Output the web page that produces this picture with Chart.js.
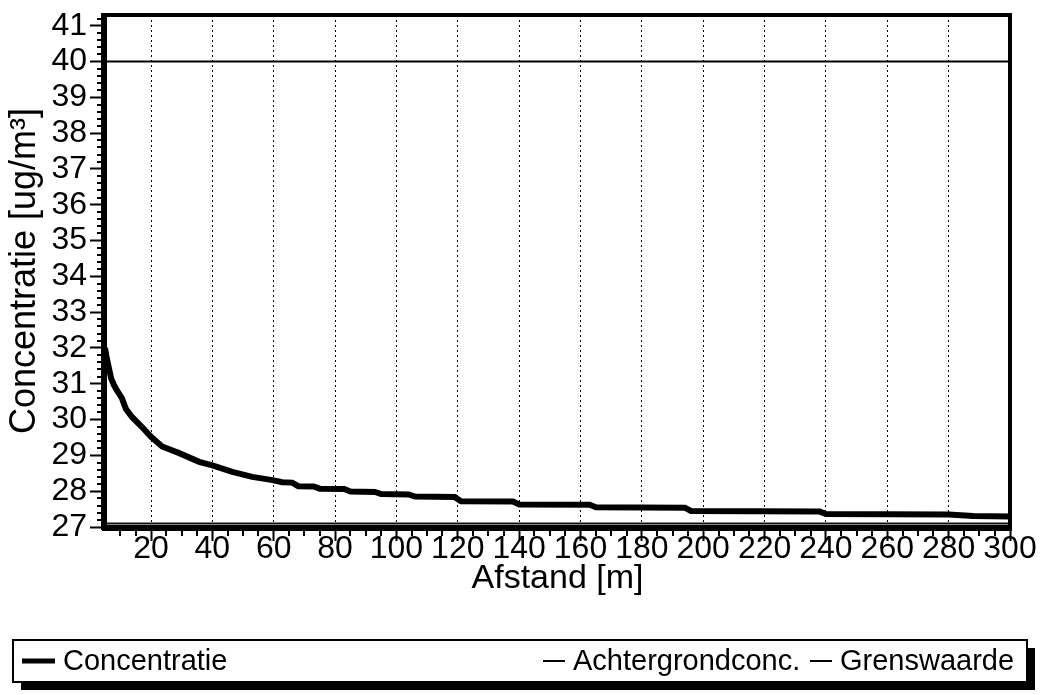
<!DOCTYPE html>
<html>
<head>
<meta charset="utf-8">
<script src="https://cdn.jsdelivr.net/npm/chart.js@4.4.1/dist/chart.umd.min.js"></script>
<style>
  html, body { margin: 0; padding: 0; background: #fff; }
  canvas { display: block; }
</style>
</head>
<body>
<canvas id="chart" width="1043" height="695"></canvas>
<script>
  // afstand [m] en concentratie [ug/m3]
  const afstand = [5, 5.5, 6, 7, 8, 9, 10.5, 11.8, 13.7, 17, 20, 23.6, 29, 35.7, 40, 46.5, 53, 59.6,
    62.8, 66, 68, 73, 75, 83, 85, 93, 95, 104, 106, 119, 121, 138, 140, 163, 165, 194, 196, 238, 240, 280, 288, 300];
  const concentratie = [32.0, 31.75, 31.55, 31.15, 30.95, 30.8, 30.6, 30.3, 30.08, 29.8, 29.52, 29.25, 29.07, 28.82, 28.72, 28.54, 28.4, 28.31,
    28.25, 28.24, 28.14, 28.13, 28.07, 28.06, 27.99, 27.98, 27.92, 27.91, 27.85, 27.84, 27.72, 27.71, 27.63, 27.62, 27.55, 27.54, 27.45, 27.43, 27.36, 27.35, 27.31, 27.29];

  const lijnX = [5, 300];
  const achtergrond = [27.1, 27.1];
  const grenswaarde = [40, 40];

  const xTicks = [20, 40, 60, 80, 100, 120, 140, 160, 180, 200, 220, 240, 260, 280, 300];
  const yTicks = [27, 28, 29, 30, 31, 32, 33, 34, 35, 36, 37, 38, 39, 40, 41];

  const FONT = "'Liberation Sans', Arial, sans-serif";

  function pts(xs, ys) { return xs.map((x, i) => ({ x: x, y: ys[i] })); }

  // kleine tussen-ticks en het dikke kader rond het plotgebied
  const frameAndMinor = {
    id: "frameAndMinor",
    afterDraw(chart) {
      const { ctx, chartArea: a, scales: { x, y } } = chart;
      ctx.save();
      ctx.strokeStyle = "#000";
      ctx.lineWidth = 2;
      ctx.beginPath();
      for (let v = 10; v < 300; v += 5) {
        if (v % 20 === 0) continue;
        const px = Math.round(x.getPixelForValue(v));
        ctx.moveTo(px, a.bottom);
        ctx.lineTo(px, a.bottom + 9);
      }
      for (let v = 27.2; v < 41.3; v += 0.2) {
        if (Math.abs(v - Math.round(v)) < 0.01) continue;
        const py = Math.round(y.getPixelForValue(v));
        ctx.moveTo(a.left - 8, py);
        ctx.lineTo(a.left, py);
      }
      ctx.stroke();

      ctx.lineWidth = 4;
      ctx.strokeRect(a.left, a.top, a.right - a.left, a.bottom - a.top);
      ctx.lineWidth = 6;
      ctx.beginPath();
      ctx.moveTo(a.left - 1, a.top - 2);
      ctx.lineTo(a.left - 1, a.bottom + 3);
      ctx.moveTo(a.left - 3, a.bottom + 1);
      ctx.lineTo(a.right + 2, a.bottom + 1);
      ctx.stroke();
      ctx.restore();
    }
  };

  // legenda in een kader met schaduw onder de grafiek
  const boxLegend = {
    id: "boxLegend",
    afterDraw(chart) {
      const ctx = chart.ctx;
      const bx = 13, by = 640, bw = 1014, bh = 42;
      ctx.save();
      ctx.fillStyle = "#000";
      ctx.fillRect(bx + 8, by + 8, bw, bh);
      ctx.fillStyle = "#fff";
      ctx.fillRect(bx, by, bw, bh);
      ctx.strokeStyle = "#000";
      ctx.lineWidth = 2;
      ctx.strokeRect(bx, by, bw, bh);

      const itemX = [22, 543, 810];
      const lineLen = [33, 22, 22];
      const cy = by + bh / 2;
      ctx.font = "29px " + FONT;
      ctx.textBaseline = "middle";
      chart.data.datasets.forEach((ds, i) => {
        ctx.lineWidth = i === 0 ? 5 : 2;
        ctx.beginPath();
        ctx.moveTo(itemX[i], cy);
        ctx.lineTo(itemX[i] + lineLen[i], cy);
        ctx.stroke();
        ctx.fillStyle = "#000";
        ctx.fillText(ds.label, itemX[i] + lineLen[i] + 8, cy + 1);
      });
      ctx.restore();
    }
  };

  new Chart(document.getElementById("chart"), {
    type: "line",
    data: {
      datasets: [
        { label: "Concentratie", data: pts(afstand, concentratie), borderColor: "#000", borderWidth: 6, pointRadius: 0, tension: 0 },
        { label: "Achtergrondconc.", data: pts(lijnX, achtergrond), borderColor: "#111", borderWidth: 2, pointRadius: 0 },
        { label: "Grenswaarde", data: pts(lijnX, grenswaarde), borderColor: "#000", borderWidth: 2, pointRadius: 0 },
      ],
    },
    options: {
      responsive: false,
      animation: false,
      layout: { padding: { top: 15, right: 33, bottom: 96, left: 0 } },
      plugins: { legend: { display: false }, tooltip: { enabled: false } },
      scales: {
        x: {
          type: "linear",
          min: 5,
          max: 300,
          afterBuildTicks: (s) => { s.ticks = xTicks.map((v) => ({ value: v })); },
          afterFit: (s) => { s.height = 72; s.paddingLeft = 0; s.paddingRight = 0; },
          ticks: { color: "#000", font: { family: FONT, size: 32 }, padding: -11, maxRotation: 0, autoSkip: false },
          grid: { color: "#000", lineWidth: 1, drawTicks: true, tickLength: 14, tickColor: "#000", tickWidth: 2, tickBorderDash: [] },
          border: { display: false, dash: [2, 3] },
          title: { display: true, text: "Afstand [m]", color: "#000", font: { family: FONT, size: 34 }, padding: { top: 0, bottom: 0 } },
        },
        y: {
          min: 27,
          max: 41.3,
          afterBuildTicks: (s) => { s.ticks = yTicks.map((v) => ({ value: v })); },
          afterFit: (s) => { s.width = 105; s.paddingTop = 0; s.paddingBottom = 0; },
          ticks: { color: "#000", font: { family: FONT, size: 32 }, padding: 3, autoSkip: false },
          grid: { drawOnChartArea: false, drawTicks: true, tickLength: 15, tickColor: "#000", tickWidth: 2 },
          border: { display: false },
          title: { display: true, text: "Concentratie [ug/m³]", color: "#000", font: { family: FONT, size: 36 }, padding: { top: 3, bottom: 0 } },
        },
      },
    },
    plugins: [frameAndMinor, boxLegend],
  });
</script>
</body>
</html>
